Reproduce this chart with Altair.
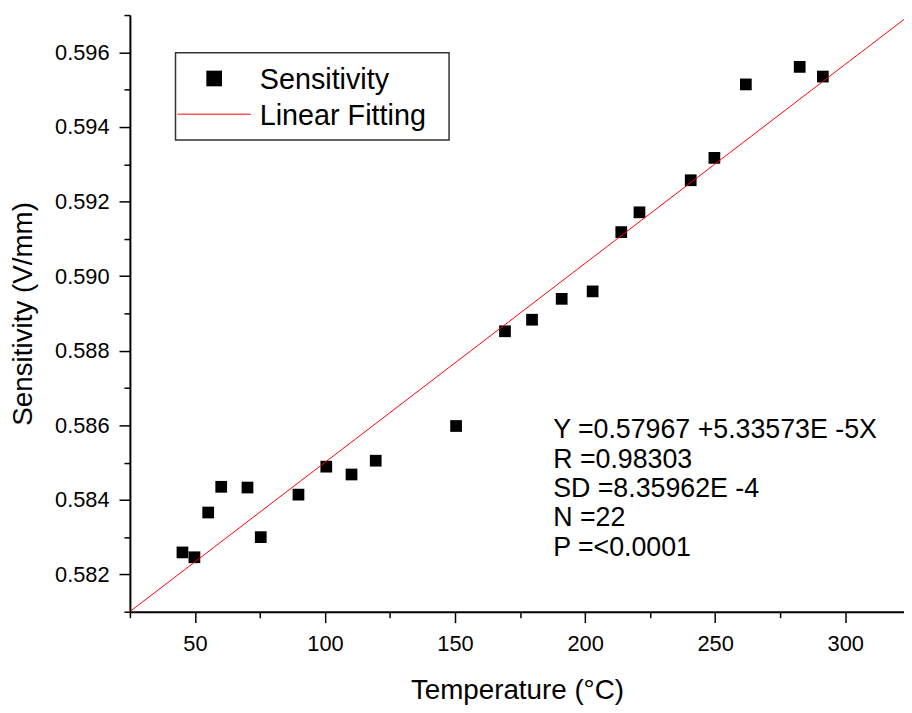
import altair as alt
import pandas as pd

# ---- data ----
temperature = [45.2, 49.8, 55.1, 60.1, 70.2, 75.3, 89.8, 100.5, 110.2, 119.5, 150.4,
               169.2, 179.6, 191.0, 202.9, 213.9, 220.9, 240.6, 249.7, 261.8, 282.5, 291.4]
sensitivity = [0.58259, 0.58246, 0.58366, 0.58435, 0.58433, 0.58300, 0.58414, 0.58489,
               0.58468, 0.58505, 0.58598, 0.58852, 0.58883, 0.58939, 0.58959, 0.59118,
               0.59171, 0.59257, 0.59317, 0.59514, 0.59561, 0.59535]
fit_intercept = 0.57967
fit_slope = 5.33573e-5
fit_x = [25, 325]
x_major = [50, 100, 150, 200, 250, 300]
x_minor = [25, 75, 125, 175, 225, 275]
y_major = [0.582, 0.584, 0.586, 0.588, 0.590, 0.592, 0.594, 0.596]
y_minor = [0.581, 0.583, 0.585, 0.587, 0.589, 0.591, 0.593, 0.595, 0.597]
stats_lines = ["Y =0.57967 +5.33573E -5X", "R =0.98303", "SD =8.35962E -4", "N =22", "P =<0.0001"]
legend_labels = ["Sensitivity", "Linear Fitting"]

FONT = "Liberation Sans, Arial, sans-serif"
W, H = 781, 602

pts = pd.DataFrame({"T": temperature, "S": sensitivity})
fit = pd.DataFrame({"T": fit_x, "S": [fit_intercept + fit_slope * t for t in fit_x]})
one = alt.Data(values=[{}])

xscale = alt.Scale(domain=[25, 322.6], nice=False, zero=False)
yscale = alt.Scale(domain=[0.581, 0.597], nice=False, zero=False)

x_major_axis = alt.Axis(
    values=x_major, orient="bottom", tickSize=11, grid=False, labelFontSize=22, labelPadding=11,
    labelFlush=False, labelOverlap=False,
    title="Temperature (°C)", titleFontSize=28, titleFontWeight="normal", titlePadding=23,
)
x_minor_axis = alt.Axis(values=x_minor, orient="bottom", tickSize=6, grid=False, labels=False,
                        domain=False, title=None)
y_major_axis = alt.Axis(
    values=y_major, orient="left", format=".3f", tickSize=11, grid=False, labelFontSize=22,
    labelPadding=10, labelFlush=False, labelOverlap=False,
    title="Sensitivity (V/mm)", titleFontSize=28, titleFontWeight="normal", titlePadding=17,
)
y_minor_axis = alt.Axis(values=y_minor, orient="left", tickSize=6, grid=False, labels=False,
                        domain=False, title=None)

minor = alt.Chart(pts).mark_square(size=140, opacity=0).encode(
    x=alt.X("T:Q", scale=xscale, axis=x_minor_axis),
    y=alt.Y("S:Q", scale=yscale, axis=y_minor_axis),
)
points = alt.Chart(pts).mark_square(size=140, color="black", opacity=1).encode(
    x=alt.X("T:Q", scale=xscale, axis=x_major_axis),
    y=alt.Y("S:Q", scale=yscale, axis=y_major_axis),
)
line = alt.Chart(fit).mark_line(color="red", strokeWidth=1, clip=True).encode(
    x=alt.X("T:Q", scale=xscale, axis=None),
    y=alt.Y("S:Q", scale=yscale, axis=None),
)

# legend (drawn as annotation)
leg_box = alt.Chart(one).mark_rect(fill="white", stroke="#333333", strokeWidth=1.5).encode(
    x=alt.value(46), x2=alt.value(322), y=alt.value(38), y2=alt.value(126))
leg_sq = alt.Chart(one).mark_square(size=250, color="black", opacity=1).encode(
    x=alt.value(85), y=alt.value(64))
leg_ln = alt.Chart(one).mark_rule(color="red", strokeWidth=1).encode(
    x=alt.value(48), x2=alt.value(122), y=alt.value(100))
leg_t1 = alt.Chart(one).mark_text(align="left", baseline="alphabetic", fontSize=29, font=FONT,
                                  color="black").encode(
    x=alt.value(131), y=alt.value(75), text=alt.value(legend_labels[0]))
leg_t2 = alt.Chart(one).mark_text(align="left", baseline="alphabetic", fontSize=29, font=FONT,
                                  color="black").encode(
    x=alt.value(131), y=alt.value(111), text=alt.value(legend_labels[1]))

stats = alt.Chart(one).mark_text(align="left", baseline="alphabetic", fontSize=27, font=FONT,
                                 color="black", lineBreak="\n", lineHeight=29.6).encode(
    x=alt.value(427), y=alt.value(427), text=alt.value("\n".join(stats_lines)))

chart = alt.layer(points, minor, line, leg_box, leg_sq, leg_ln, leg_t1, leg_t2, stats).resolve_axis(
    x="independent", y="independent"
).properties(
    width=W, height=H,
    autosize=alt.AutoSizeParams(type="none"),
    padding={"left": 123, "top": 4, "right": 0, "bottom": 91},
).configure_view(stroke=None).configure_axis(
    domainColor="black", domainWidth=2, tickColor="black", tickWidth=1.5,
    labelColor="black", titleColor="black", labelFont=FONT, titleFont=FONT,
)

chart.save("out.html", embed_options={"renderer": "svg", "actions": False})
